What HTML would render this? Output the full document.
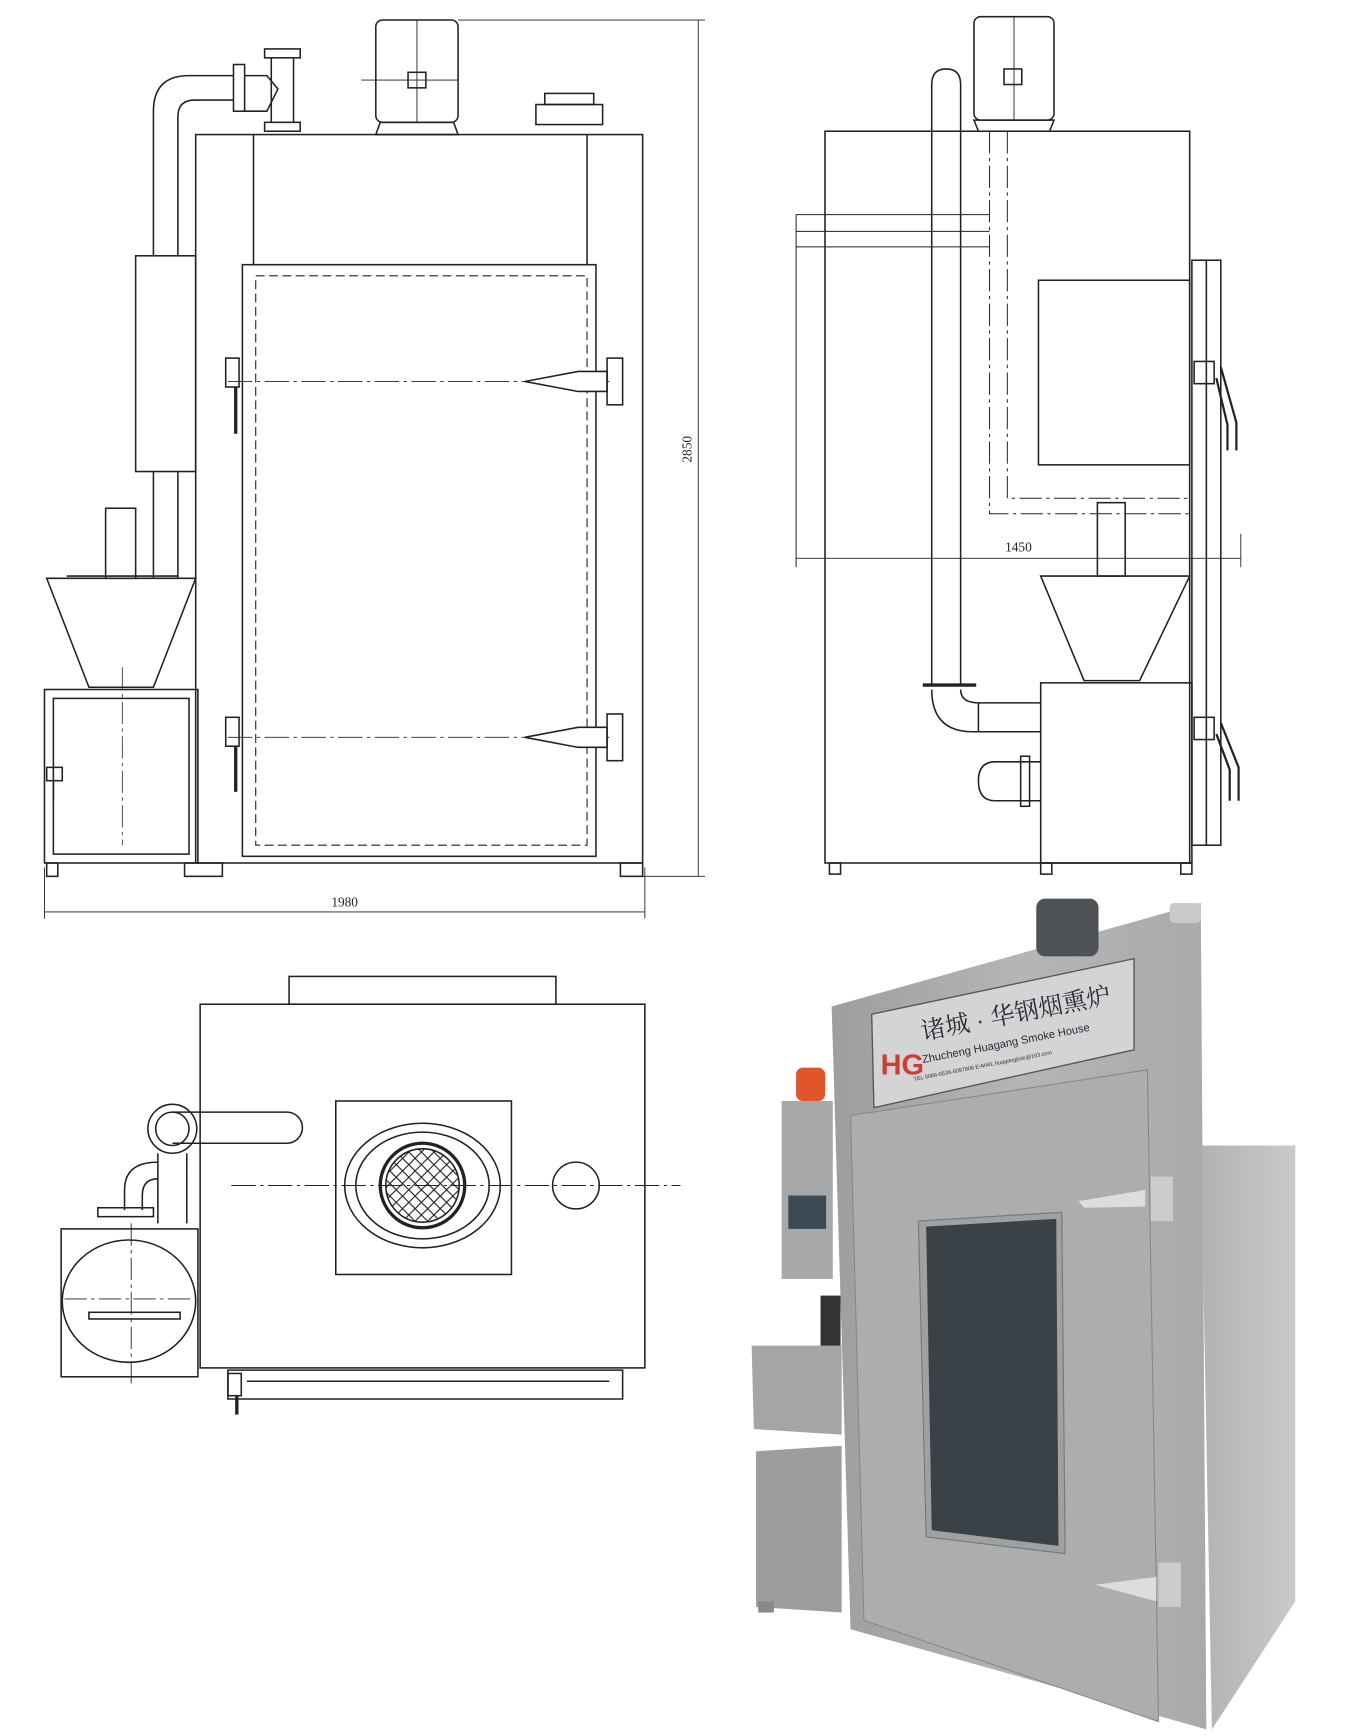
<!DOCTYPE html>
<html><head><meta charset="utf-8"><style>
html,body{margin:0;padding:0;background:#fff;width:1352px;height:1736px;overflow:hidden}
svg{display:block}
</style></head><body>
<svg width="1352" height="1736" viewBox="0 0 1216 1561" preserveAspectRatio="none" xmlns="http://www.w3.org/2000/svg">
<defs>
<linearGradient id="steel" x1="0" y1="0" x2="1" y2="0"><stop offset="0" stop-color="#9d9e9f"/><stop offset="0.5" stop-color="#b4b5b6"/><stop offset="1" stop-color="#a9aaab"/></linearGradient>
<linearGradient id="side" x1="0" y1="0" x2="1" y2="0"><stop offset="0" stop-color="#b0b2b3"/><stop offset="1" stop-color="#c8cacb"/></linearGradient>
<pattern id="mesh" width="8" height="8" patternUnits="userSpaceOnUse" patternTransform="rotate(45)"><rect width="8" height="8" fill="#fff"/><path d="M0 0H8M0 0V8" stroke="#222" stroke-width="2"/></pattern>
</defs>
<g fill="none" stroke="#222" stroke-width="1.4">
<rect x="176" y="121" width="402" height="655"/>
<line x1="228" y1="121" x2="228" y2="238"/><line x1="528" y1="121" x2="528" y2="238"/>
<rect x="218" y="238" width="318" height="532"/>
<rect x="230" y="248" width="298" height="512" stroke-dasharray="8 4" stroke-width="1"/>
<rect x="338" y="18" width="74" height="92" rx="6"/>
<line x1="375" y1="18" x2="375" y2="110" stroke-width="0.8"/><line x1="325" y1="72" x2="412" y2="72" stroke-width="0.8"/>
<rect x="367" y="65" width="16" height="14"/>
<path d="M342 110 L408 110 L412 121 L338 121Z"/>
<rect x="482" y="94" width="60" height="18"/><rect x="490" y="84" width="44" height="10"/>
<path d="M138 230 V100 Q138 68 170 68 H210 M160 230 V105 Q160 90 175 90 H210"/>
<rect x="210" y="58" width="10" height="42"/>
<path d="M220 68 H240 L250 80 L240 100 H220"/>
<rect x="238" y="44" width="32" height="8"/><rect x="238" y="110" width="32" height="8"/><path d="M244 52 V110 M264 52 V110"/>
<rect x="122" y="230" width="54" height="194"/>
<path d="M138 424 V520 M160 424 V520"/>
<rect x="95" y="457" width="27" height="63"/>
<path d="M42 520 H176 L138 618 H80 Z"/>
<line x1="60" y1="518" x2="160" y2="518"/>
<rect x="40" y="620" width="138" height="156"/>
<rect x="48" y="628" width="122" height="140"/>
<line x1="110" y1="600" x2="110" y2="760" stroke-width="0.7" stroke-dasharray="20 4 3 4"/>
<rect x="42" y="690" width="14" height="12"/><line x1="48" y1="702" x2="48" y2="720"/>
<rect x="42" y="776" width="10" height="12"/><rect x="166" y="776" width="34" height="12"/><rect x="558" y="776" width="20" height="12"/>
<line x1="205" y1="343" x2="548" y2="343" stroke-width="0.8" stroke-dasharray="22 4 3 4"/>
<line x1="205" y1="663" x2="548" y2="663" stroke-width="0.8" stroke-dasharray="22 4 3 4"/>
<path d="M472 343 L520 334 H546 V352 H520 Z" fill="#fff"/><rect x="546" y="322" width="14" height="42"/>
<path d="M472 663 L520 654 H546 V672 H520 Z" fill="#fff"/><rect x="546" y="642" width="14" height="42"/>
<rect x="203" y="322" width="12" height="26"/><line x1="212" y1="348" x2="212" y2="390" stroke-width="3"/>
<rect x="203" y="645" width="12" height="26"/><line x1="212" y1="671" x2="212" y2="712" stroke-width="3"/>
<line x1="40" y1="820" x2="580" y2="820" stroke-width="0.8"/><line x1="40" y1="780" x2="40" y2="826" stroke-width="0.8"/><line x1="580" y1="780" x2="580" y2="826" stroke-width="0.8"/>
<line x1="628" y1="18" x2="628" y2="788" stroke-width="0.8"/><line x1="412" y1="18" x2="634" y2="18" stroke-width="0.8"/><line x1="578" y1="788" x2="634" y2="788" stroke-width="0.8"/>
<rect x="742" y="118" width="328" height="658"/>
<rect x="876" y="15" width="72" height="93" rx="6"/><rect x="903" y="62" width="16" height="14"/>
<line x1="912" y1="15" x2="912" y2="108" stroke-width="0.8"/>
<path d="M876 108 H948 L944 118 H880Z"/>
<path d="M838 615 V76 Q838 62 851 62 Q864 62 864 76 V615"/>
<line x1="830" y1="616" x2="878" y2="616" stroke-width="3"/>
<path d="M838 620 Q838 658 875 658 H936 M864 620 Q864 632 880 632 H936"/>
<line x1="880" y1="632" x2="880" y2="658"/>
<rect x="934" y="252" width="136" height="166"/>
<path d="M890 118 V462 H1070 M906 118 V448 H1070" stroke-dasharray="20 4 3 4" stroke-width="0.9"/>
<path d="M716 193 H890 M716 208 H890 M716 222 H890 M716 193 V510" stroke-width="0.9"/>
<line x1="716" y1="502" x2="1116" y2="502" stroke-width="0.8"/><line x1="1116" y1="480" x2="1116" y2="510" stroke-width="0.8"/>
<rect x="987" y="452" width="25" height="66"/>
<path d="M936 518 H1070 L1025 612 H975 Z"/>
<rect x="936" y="614" width="136" height="162"/>
<rect x="746" y="776" width="10" height="10"/><rect x="936" y="776" width="10" height="10"/><rect x="1062" y="776" width="10" height="10"/>
<rect x="1072" y="234" width="26" height="526"/><line x1="1085" y1="234" x2="1085" y2="760"/>
<path d="M1098 330 L1112 380 V405 M1094 340 L1104 382 V405" stroke-width="2"/>
<path d="M1098 650 L1114 690 V720 M1094 660 L1106 692 V720" stroke-width="2"/>
<rect x="1074" y="325" width="18" height="20"/><rect x="1074" y="645" width="18" height="20"/>
<path d="M936 685 H895 Q880 685 880 702 Q880 720 895 720 H936"/><rect x="918" y="680" width="8" height="45"/>
<rect x="260" y="878" width="240" height="25"/>
<rect x="180" y="903" width="400" height="327"/>
<rect x="302" y="990" width="158" height="156"/>
<ellipse cx="380" cy="1066" rx="70" ry="56"/><ellipse cx="380" cy="1066" rx="60" ry="48"/>
<circle cx="380" cy="1066" r="38" stroke-width="3"/><circle cx="380" cy="1066" r="33" fill="url(#mesh)"/>
<circle cx="518" cy="1066" r="21"/>
<line x1="208" y1="1066" x2="612" y2="1066" stroke-width="0.8" stroke-dasharray="22 4 3 4"/>
<path d="M155 1000 H258 A14 14 0 0 1 258 1028 H155"/>
<circle cx="155" cy="1015" r="22"/><circle cx="155" cy="1015" r="15"/>
<path d="M142 1037 V1100 M168 1037 V1100 M142 1045 Q112 1045 112 1070 V1088 M142 1060 Q128 1060 128 1075 V1088"/>
<rect x="88" y="1086" width="50" height="8"/>
<rect x="55" y="1105" width="123" height="133"/>
<ellipse cx="116" cy="1170" rx="60" ry="55"/>
<line x1="58" y1="1168" x2="175" y2="1168" stroke-width="0.8" stroke-dasharray="20 4 3 4"/>
<line x1="118" y1="1100" x2="118" y2="1245" stroke-width="0.8" stroke-dasharray="20 4 3 4"/>
<rect x="80" y="1180" width="82" height="6"/>
<path d="M205 1232 H560 V1258 H205 Z M222 1242 H548"/>
<rect x="205" y="1235" width="12" height="20"/><line x1="213" y1="1255" x2="213" y2="1272" stroke-width="3"/>
</g>
<g font-family="Liberation Serif, serif" font-size="12" fill="#222">
<text x="298" y="815">1980</text>
<text x="904" y="496">1450</text>
<text transform="translate(622,416) rotate(-90)">2850</text>
</g>
<polygon points="1080,1030 1165,1030 1165,1440 1090,1555" fill="url(#side)"/>
<polygon points="748,905 1080,812 1085,1555 765,1465" fill="url(#steel)"/>
<rect x="932" y="808" width="56" height="52" rx="8" fill="#4e5256"/>
<rect x="1052" y="812" width="28" height="18" rx="4" fill="#c9cacb"/>
<polygon points="784,912 1020,862 1020,944 786,996" fill="#d3d4d4" stroke="#555" stroke-width="1.2"/>
<text x="792" y="966" font-family="Liberation Sans, sans-serif" font-size="26" font-weight="bold" fill="#d23a36">HG</text>
<text transform="translate(830,935) rotate(-11)" font-family="Liberation Sans, 'Noto Serif CJK SC', serif" font-size="22" fill="#2a2a3a">诸城 · 华钢烟熏炉</text>
<text transform="translate(830,956) rotate(-11)" font-family="Liberation Sans, sans-serif" font-size="10" fill="#2a2a3a">Zhucheng Huagang Smoke House</text>
<text transform="translate(822,972) rotate(-11)" font-family="Liberation Sans, sans-serif" font-size="5" fill="#333">TEL 0086-0536-6097806  E-MAIL huagangjixie@163.com</text>
<polygon points="765,1003 1032,962 1042,1548 777,1457" fill="#acadae" stroke="#888" stroke-width="1"/>
<polygon points="826,1098 955,1090 958,1397 833,1382" fill="#9fa0a1" stroke="#777"/>
<polygon points="833,1103 950,1096 952,1390 838,1376" fill="#3b4247"/>
<polygon points="970,1080 1030,1070 1030,1085 975,1086" fill="#ddd"/><rect x="1035" y="1058" width="20" height="40" fill="#ccc"/>
<polygon points="985,1425 1040,1418 1040,1440" fill="#ddd"/><rect x="1042" y="1405" width="20" height="40" fill="#ccc"/>
<rect x="716" y="960" width="26" height="30" rx="6" fill="#e0552a"/>
<rect x="703" y="990" width="46" height="160" fill="#a6a8a9"/>
<rect x="709" y="1075" width="34" height="30" fill="#3c4a55"/>
<polygon points="676,1210 757,1210 757,1290 678,1285" fill="#a4a5a6"/>
<rect x="738" y="1165" width="18" height="45" fill="#333"/>
<polygon points="680,1305 757,1300 757,1450 680,1445" fill="#9c9d9e"/>
<rect x="682" y="1440" width="14" height="10" fill="#888"/>
</svg>
</body></html>
